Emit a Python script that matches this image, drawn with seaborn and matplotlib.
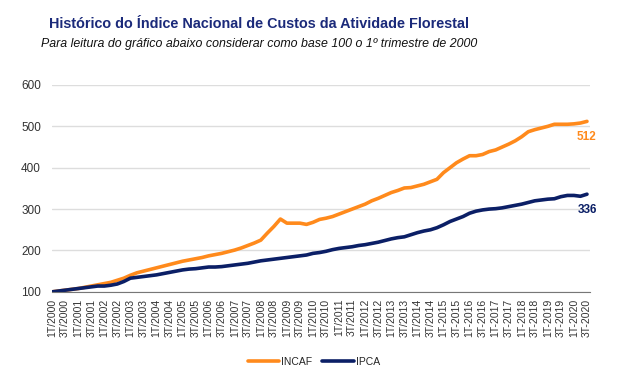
import seaborn as sns
import matplotlib.pyplot as plt
import pandas as pd

# trimestres de 1T/2000 a 3T/2020
anos = [a for a in range(2000, 2021) for _ in range(4)][:83]
trimestres = [t for _ in range(2000, 2021) for t in (1, 2, 3, 4)][:83]

incaf = [100, 102, 104, 106,
         108, 111, 114, 117,
         120, 123, 128, 133,
         140, 146, 150, 154,
         158, 162, 166, 170,
         174, 177, 180, 183,
         187, 190, 193, 197,
         201, 206, 212, 218,
         225, 242, 258, 276,
         266, 266, 266, 263,
         268, 275, 278, 282,
         288, 294, 300, 306,
         312, 320, 326, 333,
         340, 345, 351, 352,
         356, 360, 366, 372,
         388, 400, 412, 421,
         429, 429, 432, 439,
         443, 450, 457, 465,
         475, 487, 492, 496,
         500, 505, 505, 505,
         506, 508, 512]

ipca = [100, 102, 104, 106,
        108, 110, 112, 114,
        114, 116, 119, 125,
        133, 135, 137, 139,
        141, 144, 147, 150,
        153, 155, 156, 158,
        160, 160, 161, 163,
        165, 167, 169, 172,
        175, 177, 179, 181,
        183, 185, 187, 189,
        193, 195, 198, 202,
        205, 207, 209, 212,
        214, 217, 220, 224,
        228, 231, 233, 238,
        243, 247, 250, 255,
        262, 270, 276, 282,
        290, 295, 298, 300,
        301, 303, 306, 309,
        312, 316, 320, 322,
        324, 325, 330, 333,
        333, 331, 336]

rotulos = [f"{t}T/{a}" if a < 2015 else f"{t}T-{a}" for a, t in zip(anos, trimestres)]

n = len(incaf)
df = pd.DataFrame({
    "idx": list(range(n)) * 2,
    "valor": incaf + ipca,
    "serie": ["INCAF"] * n + ["IPCA"] * n,
})

laranja = "#FF8A1C"
azul = "#0B1F66"

sns.set_theme(style="white")
plt.rcParams["font.family"] = ["Liberation Sans", "DejaVu Sans"]

fig = plt.figure(figsize=(6.2, 3.81), dpi=100)
ax = fig.add_axes([0.084, 0.234, 0.868, 0.543])

sns.lineplot(data=df, x="idx", y="valor", hue="serie",
             palette={"INCAF": laranja, "IPCA": azul},
             linewidth=2.6, ax=ax)

ax.set_xlim(0, n - 1 + 0.5)
ax.set_ylim(100, 600)
ax.set_yticks([100, 200, 300, 400, 500, 600])
ax.yaxis.grid(True, color="#dddddd", linewidth=1)
ax.tick_params(axis="y", labelsize=8.5, colors="#333333", length=0, pad=8)

pos = list(range(0, n, 2))
ax.set_xticks(pos)
ax.set_xticklabels([rotulos[i] for i in pos], rotation=90, fontsize=7.5, color="#333333")
ax.tick_params(axis="x", direction="out", length=3, width=0.8, color="#777777", pad=2)
ax.set_xlabel("")
ax.set_ylabel("")

for s in ["left", "right", "top"]:
    ax.spines[s].set_visible(False)
ax.spines["bottom"].set_color("#777777")
ax.spines["bottom"].set_linewidth(0.8)

ax.text(n - 1, incaf[-1] - 38, str(incaf[-1]), color=laranja, fontsize=8.5,
        fontweight="bold", ha="center", va="center")
ax.text(n - 1, ipca[-1] - 38, str(ipca[-1]), color=azul, fontsize=8.5,
        fontweight="bold", ha="center", va="center")

leg = ax.legend(loc="center", ncol=2, frameon=False, fontsize=7.5, handlelength=3.0,
                columnspacing=1.0, handletextpad=0.2)
leg.set_bbox_to_anchor((0.506, 1 - 362 / 381), transform=fig.transFigure)
for line in leg.get_lines():
    line.set_linewidth(2.6)

fig.text(0.418, 1 - 24 / 381, "Histórico do Índice Nacional de Custos da Atividade Florestal",
         ha="center", va="center", fontsize=10.4, fontweight="bold", color="#1B2A7A")
fig.text(0.418, 1 - 44 / 381, "Para leitura do gráfico abaixo considerar como base 100 o 1º trimestre de 2000",
         ha="center", va="center", fontsize=8.9, style="italic", color="#111111")

fig.savefig("out.png", dpi=100)
